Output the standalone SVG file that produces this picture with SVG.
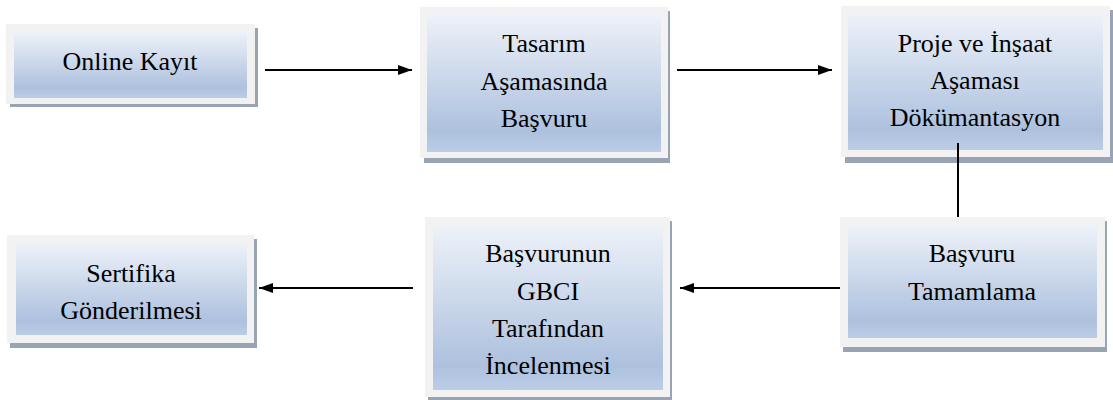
<svg xmlns="http://www.w3.org/2000/svg" width="1113" height="400" viewBox="0 0 1113 400">
<defs>
<linearGradient id="g" x1="0" y1="0" x2="0" y2="1">
<stop offset="0" stop-color="#eef2f9"/>
<stop offset="0.85" stop-color="#adc1de"/>
<stop offset="1" stop-color="#bccde6"/>
</linearGradient>
<marker id="ah" markerWidth="14" markerHeight="10" refX="14" refY="5" orient="auto" markerUnits="userSpaceOnUse">
<path d="M0,0 L14,5 L0,10 Z" fill="#000"/>
</marker>
</defs>
<rect width="1113" height="400" fill="#fff"/>
<g font-family="Liberation Serif" font-size="26" text-anchor="middle" fill="#000">
<g id="n1">
<rect fill="#98a3b3" x="10" y="28" width="248" height="79"/>
<rect fill="#f2f2f2" x="6" y="24" width="249" height="80"/>
<rect fill="url(#g)" x="14" y="32" width="233" height="66"/>
<text x="130" y="70">Online Kayıt</text>
</g>
<g id="n2">
<rect fill="#98a3b3" x="424" y="11" width="246" height="152"/>
<rect fill="#f2f2f2" x="420" y="7" width="248" height="151"/>
<rect fill="url(#g)" x="427" y="14" width="234" height="138"/>
<text x="544" y="52">Tasarım</text>
<text x="544" y="90">Aşamasında</text>
<text x="544" y="127">Başvuru</text>
</g>
<g id="n3">
<rect fill="#98a3b3" x="845" y="10" width="268" height="153"/>
<rect fill="#f2f2f2" x="841" y="6" width="269" height="151"/>
<rect fill="url(#g)" x="848" y="13" width="255" height="137"/>
<text x="975" y="52">Proje ve İnşaat</text>
<text x="975" y="89">Aşaması</text>
<text x="975" y="126">Dökümantasyon</text>
</g>
<g id="n4">
<rect fill="#98a3b3" x="843" y="221" width="264" height="131"/>
<rect fill="#f2f2f2" x="840" y="217" width="265" height="130"/>
<rect fill="url(#g)" x="848" y="225" width="249" height="113"/>
<text x="972" y="262">Başvuru</text>
<text x="972" y="300">Tamamlama</text>
</g>
<g id="n5">
<rect fill="#98a3b3" x="428" y="221" width="244" height="179"/>
<rect fill="#f2f2f2" x="425" y="217" width="245" height="180"/>
<rect fill="url(#g)" x="433" y="225" width="230" height="165"/>
<text x="548" y="262">Başvurunun</text>
<text x="548" y="300">GBCI</text>
<text x="548" y="337">Tarafından</text>
<text x="548" y="374">İncelenmesi</text>
</g>
<g id="n6">
<rect fill="#98a3b3" x="10" y="239" width="247" height="109"/>
<rect fill="#f2f2f2" x="7" y="235" width="247" height="108"/>
<rect fill="url(#g)" x="16" y="243" width="231" height="92"/>
<text x="131" y="282">Sertifika</text>
<text x="131" y="319">Gönderilmesi</text>
</g>
</g>
<g id="connectors" stroke="#000" stroke-width="2" fill="none">
<line x1="265" y1="70" x2="412" y2="70" marker-end="url(#ah)"/>
<line x1="677" y1="70" x2="832" y2="70" marker-end="url(#ah)"/>
<line x1="958" y1="143" x2="958" y2="217"/>
<line x1="840" y1="288" x2="680" y2="288" marker-end="url(#ah)"/>
<line x1="413" y1="288" x2="259" y2="288" marker-end="url(#ah)"/>
</g>
</svg>
